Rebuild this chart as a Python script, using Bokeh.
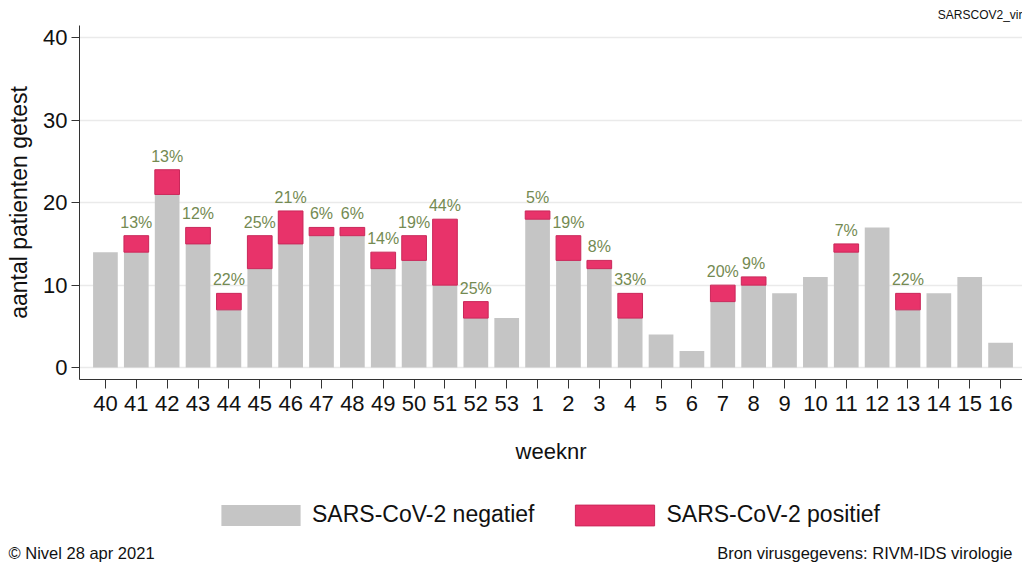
from bokeh.plotting import figure
from bokeh.models import ColumnDataSource, Range1d, FixedTicker, Legend, LegendItem, Label, Title
from bokeh.layouts import column
from bokeh.core.properties import value
from bokeh.embed import file_html
from bokeh.resources import INLINE

weeks = ["40", "41", "42", "43", "44", "45", "46", "47", "48", "49", "50", "51", "52", "53",
         "1", "2", "3", "4", "5", "6", "7", "8", "9", "10", "11", "12", "13", "14", "15", "16"]
negatief = [14, 14, 21, 15, 7, 12, 15, 16, 16, 12, 13, 10, 6, 6,
            18, 13, 12, 6, 4, 2, 8, 10, 9, 11, 14, 17, 7, 9, 11, 3]
positief = [0, 2, 3, 2, 2, 4, 4, 1, 1, 2, 3, 8, 2, 0,
            1, 3, 1, 3, 0, 0, 2, 1, 0, 0, 1, 0, 2, 0, 0, 0]
pct_labels = ["", "13%", "13%", "12%", "22%", "25%", "21%", "6%", "6%", "14%", "19%", "44%", "25%", "",
              "5%", "19%", "8%", "33%", "", "", "20%", "9%", "", "", "7%", "", "22%", "", "", ""]

FONT = "Liberation Sans"
GRAY = "#c5c5c5"
RED = "#e8336a"
RED_EDGE = "#c9285a"
LABEL_GREEN = "#748a52"
INK = "#111111"

idx = list(range(len(weeks)))
tops = [n + q for n, q in zip(negatief, positief)]

src = ColumnDataSource(dict(x=idx, neg=negatief, pos=positief, top=tops, lbl=pct_labels))

W = 1022
p = figure(width=W, height=490, output_backend="svg", toolbar_location=None,
           x_range=Range1d(-0.84, 29.71), y_range=Range1d(-1.45, 41.5),
           min_border_left=79, min_border_right=0, min_border_top=25, min_border_bottom=111)
p.frame_align = False
p.outline_line_color = None
p.background_fill_color = "white"
p.border_fill_color = "white"

p.vbar(x="x", bottom=0, top="neg", width=0.8, source=src, fill_color=GRAY, line_color=None)
pos_src = ColumnDataSource(dict(x=[i for i in idx if positief[i] > 0],
                                b=[negatief[i] for i in idx if positief[i] > 0],
                                t=[tops[i] for i in idx if positief[i] > 0]))
p.vbar(x="x", bottom="b", top="t", width=0.8, source=pos_src,
       fill_color=RED, line_color=RED_EDGE, line_width=1)

p.text(x="x", y="top", text="lbl", source=src, text_align="center", text_baseline="bottom",
       y_offset=-5, text_font_size="16px", text_color=LABEL_GREEN, text_font=value(FONT))

title = Title(text="SARSCOV2_vir", align="right", text_font=FONT, text_font_size="12px",
              text_font_style="normal", text_color=INK, offset=0, standoff=8)
p.add_layout(title, "above")

# grid
p.xgrid.grid_line_color = None
p.ygrid.grid_line_color = "#eaeaea"
p.ygrid.grid_line_width = 1.5

# y axis
p.yaxis.ticker = FixedTicker(ticks=[0, 10, 20, 30, 40])
p.yaxis.axis_label = "aantal patienten getest"
p.yaxis.axis_label_text_font = FONT
p.yaxis.axis_label_text_font_size = "23px"
p.yaxis.axis_label_text_font_style = "normal"
p.yaxis.axis_label_text_color = INK
p.yaxis.axis_label_standoff = 8
p.yaxis.major_label_text_font = FONT
p.yaxis.major_label_text_font_size = "22px"
p.yaxis.major_label_text_color = INK
p.yaxis.major_tick_out = 8
p.yaxis.major_tick_in = 0
p.yaxis.minor_tick_line_color = None
p.yaxis.axis_line_color = "#333333"
p.yaxis.major_tick_line_color = "#333333"
p.yaxis.major_label_standoff = 4

# x axis
p.xaxis.ticker = FixedTicker(ticks=idx)
p.xaxis.major_label_overrides = {i: w for i, w in zip(idx, weeks)}
p.xaxis.axis_label = "weeknr"
p.xaxis.axis_label_text_font = FONT
p.xaxis.axis_label_text_font_size = "22px"
p.xaxis.axis_label_text_font_style = "normal"
p.xaxis.axis_label_text_color = INK
p.xaxis.axis_label_standoff = 25
p.xaxis.major_label_text_font = FONT
p.xaxis.major_label_text_font_size = "22px"
p.xaxis.major_label_text_color = INK
p.xaxis.major_tick_out = 9
p.xaxis.major_tick_in = 0
p.xaxis.minor_tick_line_color = None
p.xaxis.axis_line_color = "#333333"
p.xaxis.major_tick_line_color = "#333333"
p.xaxis.major_label_standoff = 7

# footer figure: legend + source texts (pixel-like coordinates)
FH = 72
f = figure(width=W, height=FH, output_backend="svg", toolbar_location=None,
           x_range=Range1d(0, W), y_range=Range1d(0, FH),
           min_border=0, min_border_left=0, min_border_right=0,
           x_axis_type=None, y_axis_type=None)
f.frame_align = False
f.outline_line_color = None
f.grid.grid_line_color = None
f.border_fill_color = "white"

dummy = ColumnDataSource(dict(x=[-500], t=[0]))
leg_neg = f.vbar(x="x", top="t", width=1, source=dummy, fill_color=GRAY, line_color=None)
leg_pos = f.vbar(x="x", top="t", width=1, source=dummy, fill_color=RED, line_color=RED_EDGE)

legend = Legend(items=[LegendItem(label="SARS-CoV-2 negatief", renderers=[leg_neg]),
                       LegendItem(label="SARS-CoV-2 positief", renderers=[leg_pos])],
                orientation="horizontal", location=(207, 30),
                glyph_width=99, glyph_height=26, label_height=26,
                label_standoff=2, spacing=31, padding=4, margin=0,
                label_text_font=FONT, label_text_font_size="23px", label_text_color=INK,
                border_line_alpha=0, background_fill_alpha=0)
f.add_layout(legend, "center")

f.add_layout(Label(x=8, y=10, text="\u00a9 Nivel 28 apr 2021", text_align="left",
                   text_baseline="middle", text_font=FONT, text_font_size="16.5px",
                   text_color=INK))
f.add_layout(Label(x=1012, y=10, text="Bron virusgegevens: RIVM-IDS virologie",
                   text_align="right", text_baseline="middle", text_font=FONT,
                   text_font_size="16.5px", text_color=INK))

layout = column(p, f, spacing=0)
open("out.html", "w").write(file_html(layout, INLINE))
